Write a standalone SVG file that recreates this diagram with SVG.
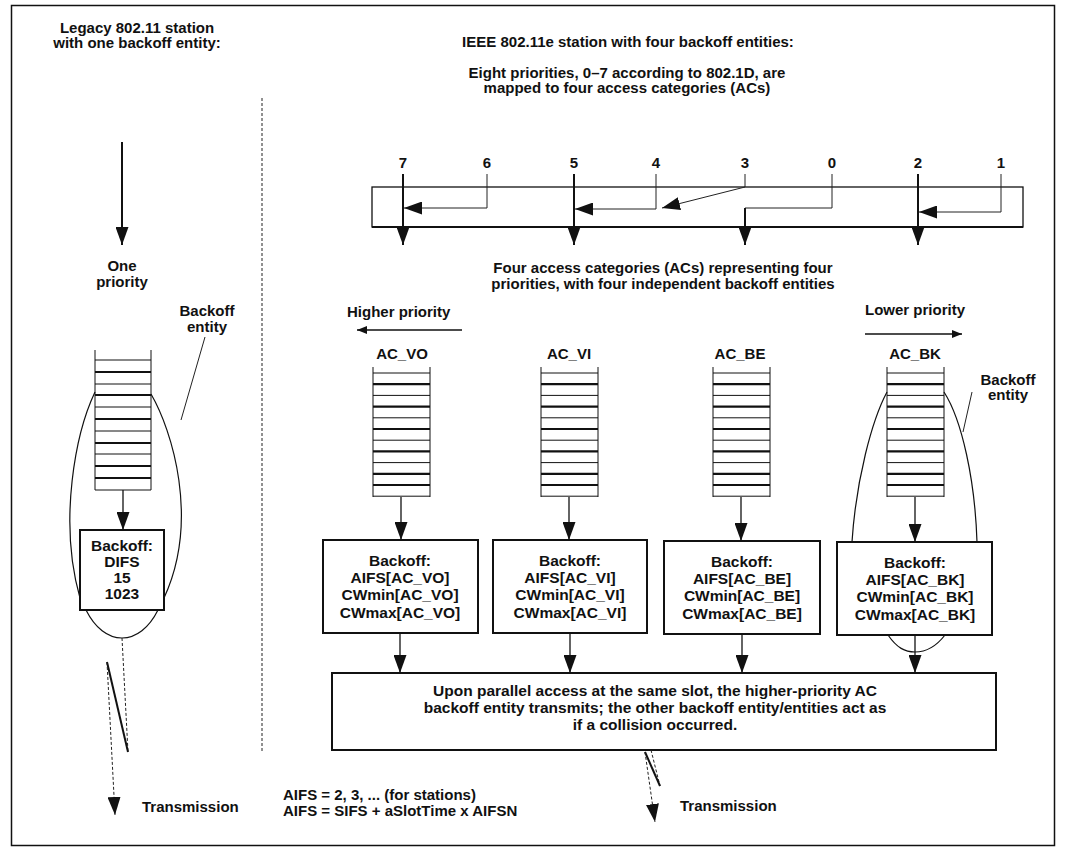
<svg xmlns="http://www.w3.org/2000/svg" width="1067" height="854" viewBox="0 0 1067 854">
<style>
text { font-family: "Liberation Sans", Arial, sans-serif; font-weight: bold; font-size: 15px; fill: #111; }
.c { text-anchor: middle; }
.b { font-size: 15.5px; }
.ln { stroke: #111; fill: none; stroke-width: 1.3; }
.tk { stroke: #111; fill: none; stroke-width: 2; }
.th { stroke: #222; fill: none; stroke-width: 1; }
.ds { stroke: #222; fill: none; stroke-width: 1; stroke-dasharray: 3 2; }
.box { fill: #fff; stroke: #111; stroke-width: 2; }
.q1 { stroke: #111; stroke-width: 1; }
.q2 { stroke: #111; stroke-width: 2.2; }
.ov { stroke: #111; fill: none; stroke-width: 1.2; }
</style>
<defs>
<marker id="ah" viewBox="0 0 18 13" refX="18" refY="6.5" markerWidth="18" markerHeight="13" markerUnits="userSpaceOnUse" orient="auto">
<path d="M0,0 L18,6.5 L0,13 z" fill="#111"/>
</marker>
<marker id="as" viewBox="0 0 10 8" refX="10" refY="4" markerWidth="10" markerHeight="8" markerUnits="userSpaceOnUse" orient="auto">
<path d="M0,0 L10,4 L0,8 z" fill="#111"/>
</marker>
<g id="acq">
<line class="q1" x1="0" y1="0" x2="0" y2="130"/>
<line class="q1" x1="57" y1="0" x2="57" y2="130"/>
<line class="q1" x1="0" y1="6" x2="57" y2="6"/>
<line class="q2" x1="0" y1="17.2" x2="57" y2="17.2"/>
<line class="q1" x1="0" y1="28.4" x2="57" y2="28.4"/>
<line class="q2" x1="0" y1="39.6" x2="57" y2="39.6"/>
<line class="q1" x1="0" y1="50.8" x2="57" y2="50.8"/>
<line class="q2" x1="0" y1="62" x2="57" y2="62"/>
<line class="q1" x1="0" y1="73.2" x2="57" y2="73.2"/>
<line class="q2" x1="0" y1="84.4" x2="57" y2="84.4"/>
<line class="q1" x1="0" y1="95.6" x2="57" y2="95.6"/>
<line class="q2" x1="0" y1="106.8" x2="57" y2="106.8"/>
<line class="q2" x1="0" y1="118" x2="57" y2="118"/>
<line class="q1" x1="0" y1="129.2" x2="57" y2="129.2"/>
</g>
</defs>
<rect x="0" y="0" width="1067" height="854" fill="#fff"/>
<rect x="11.5" y="5.5" width="1043" height="840" fill="none" stroke="#111" stroke-width="1.5"/>
<line class="ds" x1="262" y1="98" x2="262" y2="752"/>

<g id="titles">
<text class="c" x="137" y="33">Legacy 802.11 station</text>
<text class="c" x="137" y="48">with one backoff entity:</text>
<text class="c" x="628" y="47">IEEE 802.11e station with four backoff entities:</text>
<text class="c" x="627" y="78">Eight priorities, 0–7 according to 802.1D, are</text>
<text class="c" x="627" y="93">mapped to four access categories (ACs)</text>
</g>

<g id="legacy-priority">
<text class="c" x="122" y="271">One</text>
<text class="c" x="122" y="287">priority</text>
</g>
<g id="legacy-entity-label">
<text class="c" x="207" y="316">Backoff</text>
<text class="c" x="207" y="332">entity</text>
</g>
<g id="legacy-queue">
<line class="q1" x1="95" y1="350" x2="95" y2="490"/>
<line class="q1" x1="151" y1="350" x2="151" y2="490"/>
<line class="q1" x1="95" y1="360" x2="151" y2="360"/>
<line class="q2" x1="95" y1="372" x2="151" y2="372"/>
<line class="q1" x1="95" y1="384" x2="151" y2="384"/>
<line class="q2" x1="95" y1="395" x2="151" y2="395"/>
<line class="q1" x1="95" y1="407" x2="151" y2="407"/>
<line class="q2" x1="95" y1="419" x2="151" y2="419"/>
<line class="q1" x1="95" y1="431" x2="151" y2="431"/>
<line class="q2" x1="95" y1="443" x2="151" y2="443"/>
<line class="q1" x1="95" y1="454" x2="151" y2="454"/>
<line class="q2" x1="95" y1="466" x2="151" y2="466"/>
<line class="q2" x1="95" y1="478" x2="151" y2="478"/>
<line class="q1" x1="95" y1="490" x2="151" y2="490"/>
</g>
<g id="legacy-backoff">
<rect class="box" x="80" y="530" width="84" height="80"/>
<text class="c b" x="122" y="551">Backoff:</text>
<text class="c b" x="122" y="567">DIFS</text>
<text class="c b" x="122" y="583">15</text>
<text class="c b" x="122" y="599">1023</text>
</g>
<g id="legacy-oval">
<path class="ov" d="M95,392 C76,432 58,520 80,598"/>
<path class="ov" d="M151,394 C172,430 200,520 164,598"/>
<path class="ov" d="M86,610 C95,628 108,638 122,638 C136,638 149,628 158,610"/>
<path class="th" d="M205,337 L181,420"/>
</g>

<g id="ac-vo">
<text class="c" x="402" y="359">AC_VO</text>
<use href="#acq" x="373" y="367"/>
<rect class="box" x="323" y="540" width="155" height="93"/>
<text class="c b" x="400" y="566">Backoff:</text>
<text class="c b" x="400" y="583">AIFS[AC_VO]</text>
<text class="c b" x="400" y="600">CWmin[AC_VO]</text>
<text class="c b" x="400" y="618">CWmax[AC_VO]</text>
</g>
<g id="ac-vi">
<text class="c" x="569" y="359">AC_VI</text>
<use href="#acq" x="541" y="367"/>
<rect class="box" x="493" y="540" width="154" height="93"/>
<text class="c b" x="570" y="566">Backoff:</text>
<text class="c b" x="570" y="583">AIFS[AC_VI]</text>
<text class="c b" x="570" y="600">CWmin[AC_VI]</text>
<text class="c b" x="570" y="618">CWmax[AC_VI]</text>
</g>
<g id="ac-be">
<text class="c" x="740" y="359">AC_BE</text>
<use href="#acq" x="713" y="367"/>
<rect class="box" x="664" y="541" width="156" height="93"/>
<text class="c b" x="742" y="567">Backoff:</text>
<text class="c b" x="742" y="584">AIFS[AC_BE]</text>
<text class="c b" x="742" y="601">CWmin[AC_BE]</text>
<text class="c b" x="742" y="619">CWmax[AC_BE]</text>
</g>
<g id="ac-bk">
<text class="c" x="915" y="359">AC_BK</text>
<use href="#acq" x="887" y="367"/>
<rect class="box" x="837" y="542" width="155" height="93"/>
<text class="c b" x="915" y="568">Backoff:</text>
<text class="c b" x="915" y="585">AIFS[AC_BK]</text>
<text class="c b" x="915" y="602">CWmin[AC_BK]</text>
<text class="c b" x="915" y="620">CWmax[AC_BK]</text>
</g>
<g id="bk-oval">
<path class="ov" d="M887,392 C872,420 856,480 852,542"/>
<path class="ov" d="M944,392 C962,420 975,480 977,542"/>
<path class="ov" d="M888,635 C897,648 905,652 915,652 C925,652 935,648 945,635"/>
<path class="th" d="M972,392 L963,432"/>
<text class="c" x="1008" y="385">Backoff</text>
<text class="c" x="1008" y="400">entity</text>
</g>

<g id="mapping">
<rect x="372" y="187" width="651" height="40" fill="none" stroke="#111" stroke-width="1.3"/>
<line x1="372" y1="227" x2="1023" y2="227" stroke="#111" stroke-width="2.2"/>
<text class="c" x="403" y="168">7</text>
<text class="c" x="487" y="168">6</text>
<text class="c" x="574" y="168">5</text>
<text class="c" x="656" y="168">4</text>
<text class="c" x="745" y="168">3</text>
<text class="c" x="832" y="168">0</text>
<text class="c" x="918" y="168">2</text>
<text class="c" x="1001" y="168">1</text>
</g>

<g id="section-labels">
<text class="c" x="663" y="273">Four access categories (ACs) representing four</text>
<text class="c" x="663" y="289">priorities, with four independent backoff entities</text>
<text x="347" y="317">Higher priority</text>
<text x="865" y="315">Lower priority</text>
</g>

<g id="parallel">
<rect class="box" x="332" y="673" width="664" height="77"/>
<text class="c b" x="655" y="696">Upon parallel access at the same slot, the higher-priority AC</text>
<text class="c b" x="655" y="713">backoff entity transmits; the other backoff entity/entities act as</text>
<text class="c b" x="655" y="730">if a collision occurred.</text>
</g>

<g id="notes">
<text x="142" y="812">Transmission</text>
<text x="680" y="811">Transmission</text>
<text x="283" y="800">AIFS = 2, 3, ... (for stations)</text>
<text x="283" y="816">AIFS = SIFS + aSlotTime x AIFSN</text>
</g>

<g id="connectors">
<line class="tk" x1="122" y1="142" x2="122" y2="245" marker-end="url(#ah)"/>
<line class="ln" x1="123" y1="490" x2="123" y2="530" marker-end="url(#ah)"/>
<line class="ds" x1="122" y1="638" x2="128" y2="752"/>
<line class="tk" x1="107" y1="662" x2="128" y2="752"/>
<line class="ds" x1="107" y1="662" x2="115" y2="815" marker-end="url(#ah)"/>

<line class="tk" x1="403" y1="174" x2="403" y2="245" marker-end="url(#ah)"/>
<line class="tk" x1="574" y1="174" x2="574" y2="245" marker-end="url(#ah)"/>
<line class="tk" x1="918" y1="174" x2="918" y2="245" marker-end="url(#ah)"/>
<polyline class="th" points="487,174 487,208 404,208" marker-end="url(#ah)"/>
<polyline class="th" points="656,174 656,209 575,209" marker-end="url(#ah)"/>
<polyline class="th" points="745,174 745,187 662,208" marker-end="url(#ah)"/>
<polyline class="th" points="832,174 832,208 745,208"/>
<line class="tk" x1="745" y1="208" x2="745" y2="245" marker-end="url(#ah)"/>
<polyline class="th" points="1001,174 1001,212 919,212" marker-end="url(#ah)"/>

<line class="ln" x1="462" y1="330" x2="357" y2="330" marker-end="url(#as)"/>
<line class="ln" x1="865" y1="334" x2="962" y2="334" marker-end="url(#as)"/>

<line class="ln" x1="401" y1="497" x2="401" y2="540" marker-end="url(#ah)"/>
<line class="ln" x1="569" y1="497" x2="569" y2="540" marker-end="url(#ah)"/>
<line class="ln" x1="741" y1="497" x2="741" y2="541" marker-end="url(#ah)"/>
<line class="ln" x1="915" y1="497" x2="915" y2="542" marker-end="url(#ah)"/>

<line class="ln" x1="400" y1="633" x2="400" y2="673" marker-end="url(#ah)"/>
<line class="ln" x1="570" y1="633" x2="570" y2="673" marker-end="url(#ah)"/>
<line class="ln" x1="742" y1="634" x2="742" y2="673" marker-end="url(#ah)"/>
<line class="ln" x1="915" y1="635" x2="915" y2="673" marker-end="url(#ah)"/>

<line class="ds" x1="651" y1="750" x2="660" y2="786"/>
<line class="tk" x1="645" y1="752" x2="660" y2="786"/>
<line class="ds" x1="645" y1="752" x2="655" y2="822" marker-end="url(#ah)"/>
</g>
</svg>
